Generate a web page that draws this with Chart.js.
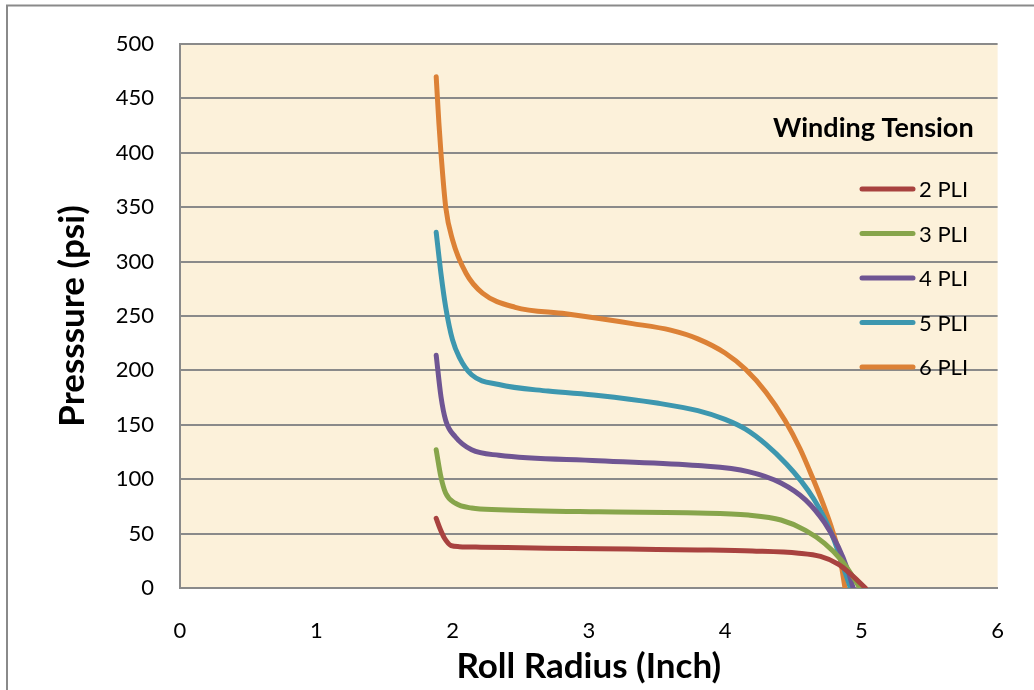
<!DOCTYPE html>
<html>
<head>
<meta charset="utf-8">
<script src="https://cdn.jsdelivr.net/npm/chart.js@4.4.1/dist/chart.umd.min.js"></script>
<style>
  html, body { margin: 0; padding: 0; background: #fff; }
  #wrap { width: 1034px; height: 690px; position: relative; }
</style>
</head>
<body>
<div id="wrap"><canvas id="pressureChart" width="1034" height="690"></canvas></div>
<script>
// Roll radius (inch) / pressure (psi), one pair of arrays per winding tension
const seriesNames = ['2 PLI', '3 PLI', '4 PLI', '5 PLI', '6 PLI'];

const radius2 = [1.88, 1.91, 1.94, 1.99, 2.05, 2.21, 2.5, 3.07, 3.5, 3.8, 4.2, 4.54, 4.7, 4.83, 4.92, 5.03];
const pressure2 = [64, 54, 46, 39, 38, 37.5, 37, 36, 35.5, 35, 34, 32, 29, 22, 13, 0];

const radius3 = [1.88, 1.915, 1.95, 2.02, 2.14, 2.34, 3.07, 3.8, 4.17, 4.41, 4.59, 4.73, 4.85, 4.94, 4.99];
const pressure3 = [127, 102, 87, 78, 73.5, 72, 70, 69, 67, 62.5, 53, 41, 26, 10, 0];

const radius4 = [1.88, 1.915, 1.95, 2.02, 2.14, 2.34, 3.07, 3.8, 4.17, 4.41, 4.59, 4.73, 4.83, 4.9, 4.94];
const pressure4 = [214, 176, 154, 139, 127, 122, 117, 112.5, 107, 96.5, 81, 60, 38, 16.5, 0];

const radius5 = [1.88, 1.915, 1.95, 2.0, 2.05, 2.14, 2.34, 2.7, 3.07, 3.5, 3.8, 4.0, 4.15, 4.3, 4.45, 4.56, 4.65, 4.73, 4.8, 4.86, 4.92];
const pressure5 = [327, 289, 258, 228, 212, 196, 187, 181, 177, 170, 163, 155, 146, 132, 114, 98, 82, 64, 44, 22, 0];

const radius6 = [1.88, 1.90, 1.915, 1.95, 2.0, 2.1, 2.22, 2.46, 2.83, 3.32, 3.6, 3.8, 4.0, 4.15, 4.3, 4.44, 4.55, 4.64, 4.72, 4.79, 4.84, 4.88];
const pressure6 = [470, 427, 400, 350, 320, 289, 271, 258, 252, 243, 237, 229, 216, 201, 180, 154, 128, 102, 77, 52, 30, 0];

const yTicks = [0, 50, 100, 150, 200, 250, 300, 350, 400, 450, 500];
const xTicks = [0, 1, 2, 3, 4, 5, 6];

const cores = ['#A8423F', '#87A54B', '#6F5593', '#3D97AF', '#DC8136'];
const radii = [radius2, radius3, radius4, radius5, radius6];
const pressures = [pressure2, pressure3, pressure4, pressure5, pressure6];

const fonte = 'Lato, "Open Sans", sans-serif';

// fundo branco, moldura e area do grafico cor de pergaminho
const fundoPlugin = {
    id: 'fundo',
    beforeDraw(chart) {
        const ctx = chart.ctx;
        const a = chart.chartArea;
        ctx.save();
        ctx.fillStyle = '#ffffff';
        ctx.fillRect(0, 0, chart.width, chart.height);
        ctx.strokeStyle = '#8a8a8a';
        ctx.lineWidth = 2;
        ctx.beginPath();
        ctx.moveTo(7, chart.height);
        ctx.lineTo(7, 5.5);
        ctx.lineTo(chart.width, 5.5);
        ctx.stroke();
        ctx.fillStyle = '#FCF1DA';
        ctx.fillRect(a.left, a.top, a.right - a.left, a.bottom - a.top);
        ctx.restore();
    }
};

// legenda desenhada dentro da area do grafico
const legendaPlugin = {
    id: 'legendaInterna',
    afterDatasetsDraw(chart) {
        const ctx = chart.ctx;
        ctx.save();
        ctx.fillStyle = '#000';
        ctx.textBaseline = 'middle';
        ctx.textAlign = 'left';
        ctx.font = 'bold 27px ' + fonte;
        ctx.fillText('Winding Tension', 773, 128);
        ctx.font = '22px ' + fonte;
        chart.data.datasets.forEach((ds, i) => {
            const y = 189 + i * 44.5;
            ctx.strokeStyle = ds.borderColor;
            ctx.lineWidth = 5;
            ctx.lineCap = 'round';
            ctx.beginPath();
            ctx.moveTo(862, y);
            ctx.lineTo(913, y);
            ctx.stroke();
            ctx.fillText(ds.label, 919, y + 1);
        });
        ctx.restore();
    }
};

new Chart(document.getElementById('pressureChart'), {
    type: 'line',
    data: {
        datasets: seriesNames.map((nome, i) => ({
            label: nome,
            data: radii[i].map((r, j) => ({ x: r, y: pressures[i][j] })),
            borderColor: cores[i],
            backgroundColor: cores[i],
            borderWidth: 5,
            borderCapStyle: 'round',
            borderJoinStyle: 'round',
            pointRadius: 0,
            cubicInterpolationMode: 'monotone',
            fill: false
        }))
    },
    options: {
        responsive: false,
        animation: false,
        layout: { padding: { left: 0, top: 44, right: 34, bottom: 0 } },
        plugins: {
            legend: { display: false },
            tooltip: { enabled: false }
        },
        scales: {
            x: {
                type: 'linear',
                min: 0,
                max: 6,
                afterBuildTicks: s => { s.ticks = xTicks.map(v => ({ value: v })); },
                afterFit: s => { s.height = 102; },
                grid: { display: false, drawTicks: false },
                border: { display: true, color: '#8a8a8a', width: 2 },
                ticks: { color: '#000', padding: 30, font: { family: fonte, size: 22 } },
                title: {
                    display: true,
                    text: 'Roll Radius (Inch)',
                    color: '#000',
                    font: { family: fonte, size: 35, weight: 'bold' },
                    padding: { top: 0, bottom: 2 }
                }
            },
            y: {
                type: 'linear',
                min: 0,
                max: 500,
                afterBuildTicks: s => { s.ticks = yTicks.map(v => ({ value: v })); },
                afterFit: s => { s.width = 180; },
                grid: { color: '#8a8a8a', lineWidth: 2, drawTicks: false },
                border: { display: true, color: '#8a8a8a', width: 2 },
                ticks: { color: '#000', padding: 26, font: { family: fonte, size: 22 } },
                title: {
                    display: true,
                    text: 'Presssure (psi)',
                    color: '#000',
                    font: { family: fonte, size: 35, weight: 'bold' },
                    padding: { top: 52, bottom: 0 }
                }
            }
        }
    },
    plugins: [fundoPlugin, legendaPlugin]
});
</script>
</body>
</html>
